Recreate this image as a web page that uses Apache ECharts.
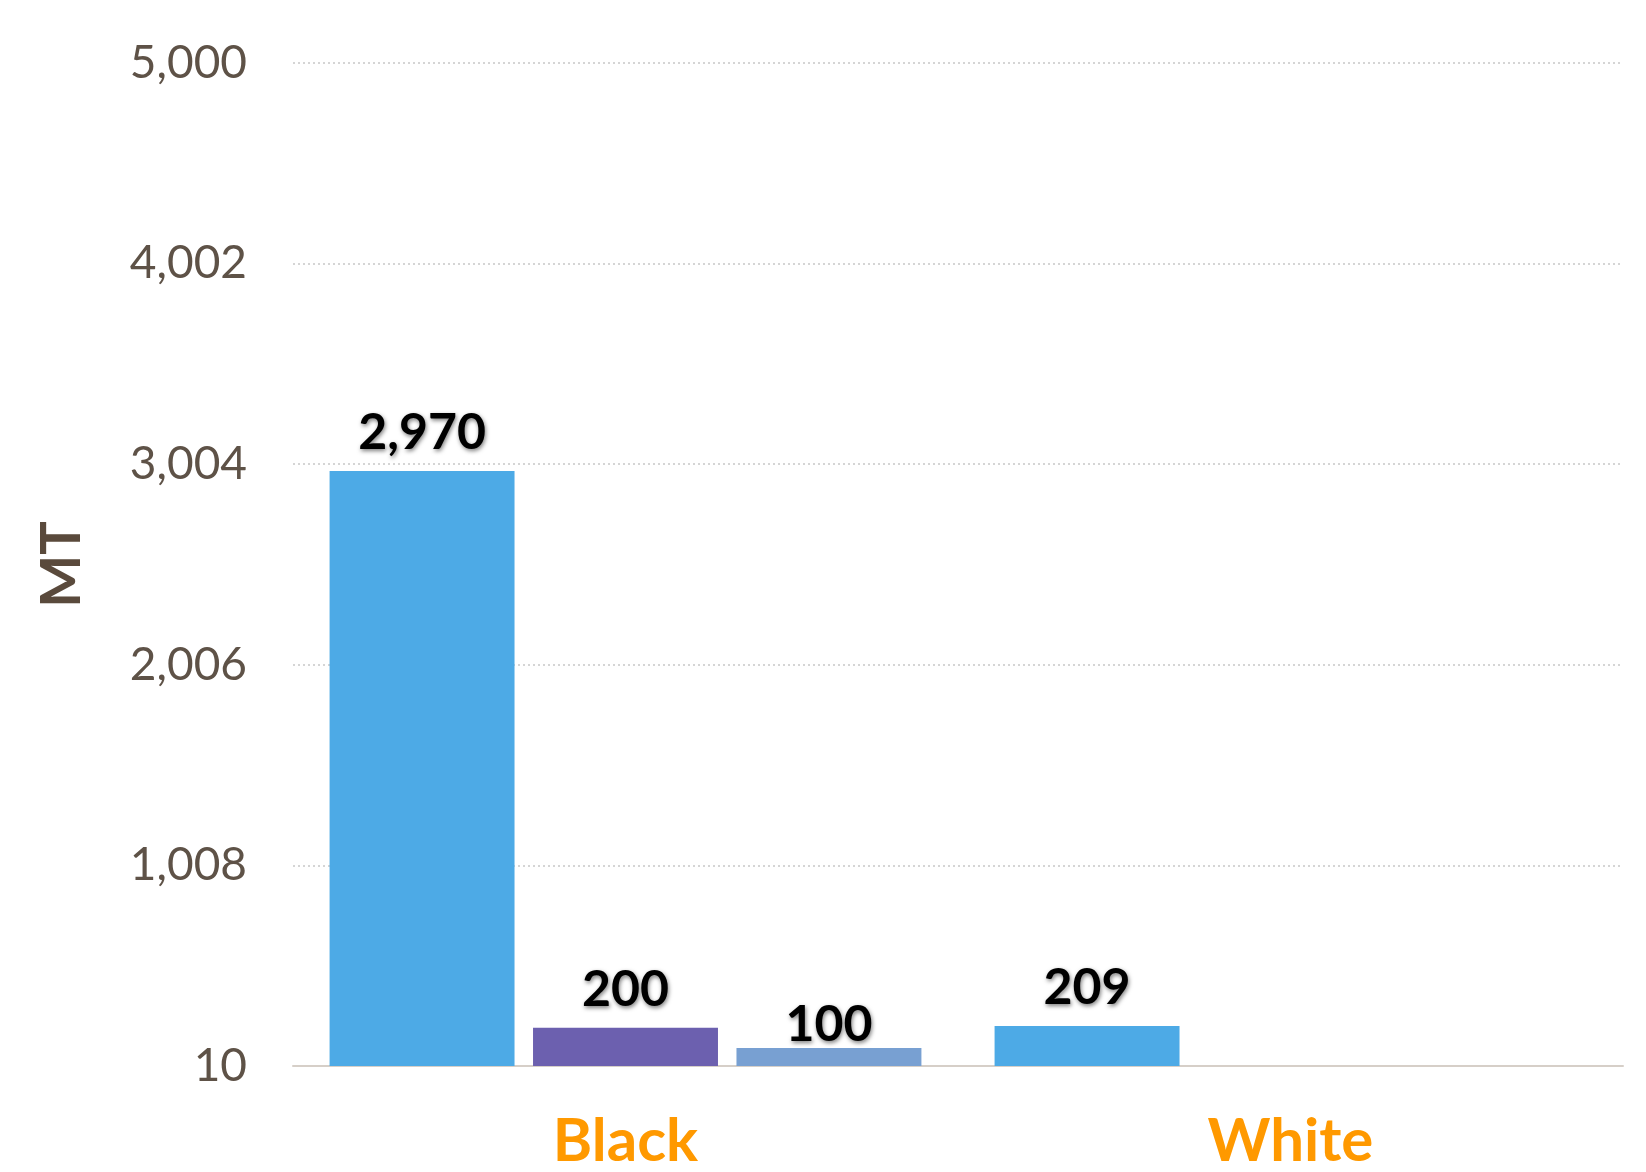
<!DOCTYPE html>
<html>
<head>
<meta charset="utf-8">
<script src="https://cdn.jsdelivr.net/npm/echarts@6/dist/echarts.min.js"></script>
<style>
html,body{margin:0;padding:0;background:#fff;}
#chart{width:1646px;height:1172px;}
</style>
</head>
<body>
<div id="chart"></div>
<script>
const categories = ['Black', 'White'];
const series1 = [2970, 209];
const series2 = [200, null];
const series3 = [100, null];
const yTicks = [10, 1008, 2006, 3004, 4002, 5000];
const yName = 'MT';

const chart = echarts.init(document.getElementById('chart'));
const fmt = v => Number(v).toLocaleString('en-US');
const labelStyle = {
  show: true,
  position: 'top',
  distance: 13,
  fontFamily: 'Lato',
  fontSize: 50,
  fontWeight: 'bold',
  color: '#000',
  textShadowColor: 'rgba(0,0,0,0.5)',
  textShadowBlur: 4,
  textShadowOffsetX: 1,
  textShadowOffsetY: 2,
  formatter: p => fmt(p.value)
};
chart.setOption({
  animation: false,
  backgroundColor: '#fff',
  grid: { left: 293, right: 23, top: 63, bottom: 90, containLabel: false },
  xAxis: {
    type: 'category',
    data: categories,
    axisTick: { show: false },
    axisLine: { lineStyle: { color: '#d6cfc8', width: 2 } },
    axisLabel: {
      color: '#FF9900', fontFamily: 'Lato', fontSize: 60, fontWeight: 'bold', margin: 46
    }
  },
  yAxis: {
    type: 'value',
    min: 10,
    max: 5000,
    startValue: 10,
    name: yName,
    nameLocation: 'middle',
    nameGap: 203,
    nameTextStyle: { color: '#5a4a3c', fontFamily: 'Lato', fontSize: 56, fontWeight: 'bold' },
    axisLine: { show: false },
    axisTick: { show: false, customValues: yTicks },
    axisLabel: {
      customValues: yTicks,
      color: '#5e5247', fontFamily: 'Lato', fontSize: 46, margin: 46,
      formatter: v => fmt(v)
    },
    splitLine: { show: true, lineStyle: { type: [2, 3], color: '#c8c8c8', width: 1.5 } }
  },
  series: [
    { type: 'bar', data: series1, itemStyle: { color: '#4DAAE6' }, barGap: '10%', barCategoryGap: '11%', label: labelStyle },
    { type: 'bar', data: series2, itemStyle: { color: '#6C60AF' }, label: labelStyle },
    { type: 'bar', data: series3, itemStyle: { color: '#78A0D2' }, label: Object.assign({}, labelStyle, { distance: -2 }) }
  ]
});
</script>
</body>
</html>
